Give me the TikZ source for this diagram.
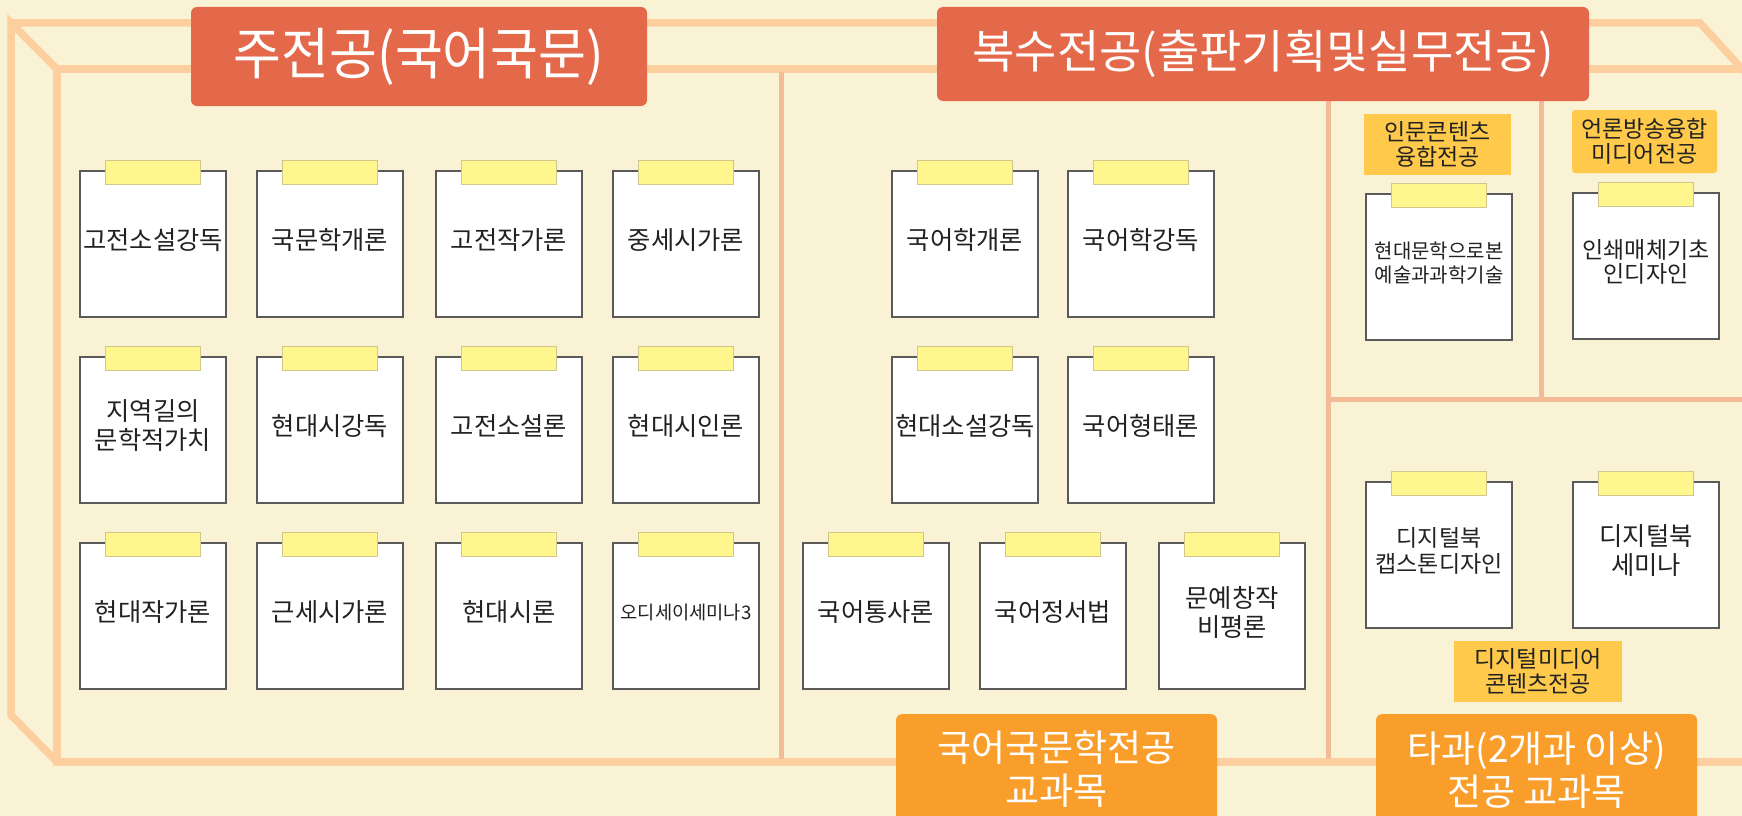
\documentclass[tikz,border=0pt]{standalone}
\usepackage{fontspec}
\setmainfont{Noto Sans CJK KR}
\newfontfamily\titlefont[FakeStretch=0.93]{Noto Sans CJK KR}
\definecolor{bgc}{HTML}{FAF2D4}
\definecolor{framec}{HTML}{FDCF9E}
\definecolor{divc}{HTML}{F5BB98}
\definecolor{titlec}{HTML}{E4694A}
\definecolor{bottomc}{HTML}{FA9E2B}
\definecolor{labelc}{HTML}{FFCA4C}
\definecolor{tapec}{HTML}{FFF68E}
\definecolor{tapeline}{HTML}{CFC88A}
\definecolor{cardline}{HTML}{5A5A5A}
\definecolor{cardtxt}{HTML}{222222}
\newcommand\crd[6]{%
  \node[cardbox] (#1) at ({#2+73},{#3+73}) {};
  \node[tapebox] (#1tape) at ({#2+73},{#3+1}) {};
  \node[cardtext, font={\fontsize{#4}{#5}\selectfont}] (#1text) at ({#2+73},{#3+69}) {#6};
}
\begin{document}
\begin{tikzpicture}[x=1pt,y=-1pt,
  frame/.style={draw=framec, line width=7.5pt},
  divider/.style={draw=divc, line width=5pt},
  cardbox/.style={draw=cardline, fill=white, line width=1.4pt, minimum width=146pt, minimum height=146pt, inner sep=0pt},
  tapebox/.style={draw=tapeline, fill=tapec, line width=0.8pt, minimum width=95pt, minimum height=24pt, inner sep=0pt},
  cardtext/.style={align=center, text=cardtxt, inner sep=0pt},
  titlebox/.style={fill=titlec, rounded corners=6pt, text=white, inner sep=0pt},
  bottombox/.style={fill=bottomc, rounded corners=6pt, inner sep=0pt, minimum width=321pt, minimum height=130pt},
  bottomtext/.style={align=center, text=white, inner sep=0pt, font={\fontsize{37}{43}\selectfont}},
  labelbox/.style={fill=labelc, align=center, text=cardtxt, inner sep=0pt, font={\fontsize{23}{24.5}\selectfont}},
]
\useasboundingbox (0,0) rectangle (1742,816);
\clip (0,0) rectangle (1742,816);
\fill[bgc] (0,0) rectangle (1742,816);
% frame
\draw[frame] (57,69) -- (1750,69);
\draw[frame] (11,23) -- (1700,23) -- (1744,71);
\draw[frame] (57,69) -- (11,23) -- (11,715) -- (57,762);
\draw[frame] (57,69) -- (57,762) -- (1750,762);
% dividers
\draw[divider] (781,72) -- (781,759);
\draw[divider] (1328,72) -- (1328,759);
\draw[divider] (1541,72) -- (1541,399);
\draw[divider] (1328,399) -- (1750,399);
% left group
\crd{a1}{80}{171}{25.3}{29}{고전소설강독}
\crd{a2}{257}{171}{25.3}{29}{국문학개론}
\crd{a3}{436}{171}{25.3}{29}{고전작가론}
\crd{a4}{613}{171}{25.3}{29}{중세시가론}
\crd{b1}{80}{357}{25.3}{29}{지역길의\\문학적가치}
\crd{b2}{257}{357}{25.3}{29}{현대시강독}
\crd{b3}{436}{357}{25.3}{29}{고전소설론}
\crd{b4}{613}{357}{25.3}{29}{현대시인론}
\crd{c1}{80}{543}{25.3}{29}{현대작가론}
\crd{c2}{257}{543}{25.3}{29}{근세시가론}
\crd{c3}{436}{543}{25.3}{29}{현대시론}
\crd{c4}{613}{543}{18.7}{22}{오디세이세미나3}
% middle group
\crd{m1}{892}{171}{25.3}{29}{국어학개론}
\crd{m2}{1068}{171}{25.3}{29}{국어학강독}
\crd{m3}{892}{357}{25.3}{29}{현대소설강독}
\crd{m4}{1068}{357}{25.3}{29}{국어형태론}
\crd{m5}{803}{543}{25.3}{29}{국어통사론}
\crd{m6}{980}{543}{25.3}{29}{국어정서법}
\crd{m7}{1159}{543}{25.3}{29}{문예창작\\비평론}
% right group
\crd{r1}{1366}{194}{20}{23.5}{현대문학으로본\\예술과과학기술}
\crd{r2}{1573}{193}{23}{24.5}{인쇄매체기초\\인디자인}
\crd{r3}{1366}{482}{23}{26}{디지털북\\캡스톤디자인}
\crd{r4}{1573}{482}{25.3}{29}{디지털북\\세미나}
% labels
\node[labelbox, minimum width=147pt, minimum height=61pt] (lab1) at (1437.5,144.5) {인문콘텐츠\\융합전공};
\node[labelbox, rounded corners=3pt, minimum width=145pt, minimum height=63pt] (lab2) at (1644.5,141.5) {언론방송융합\\미디어전공};
\node[labelbox, minimum width=168pt, minimum height=61pt] (lab3) at (1538,671.5) {디지털미디어\\콘텐츠전공};
% titles
\node[titlebox, minimum width=456pt, minimum height=99pt, font={\titlefont\fontsize{56}{60}\selectfont}] (major) at (419,56.5) {주전공(국어국문)};
\node[titlebox, minimum width=652pt, minimum height=94pt, font={\fontsize{46}{50}\selectfont}] (double) at (1263,54) {복수전공(출판기획및실무전공)};
% bottom boxes
\node[bottombox, anchor=north] (sub1) at (1056.5,714) {};
\node[bottomtext] (sub1text) at (1056.5,769) {국어국문학전공\\교과목};
\node[bottombox, anchor=north] (sub2) at (1536.5,714) {};
\node[bottomtext] (sub2text) at (1536.5,770) {타과(2개과 이상)\\전공 교과목};
\end{tikzpicture}
\end{document}
